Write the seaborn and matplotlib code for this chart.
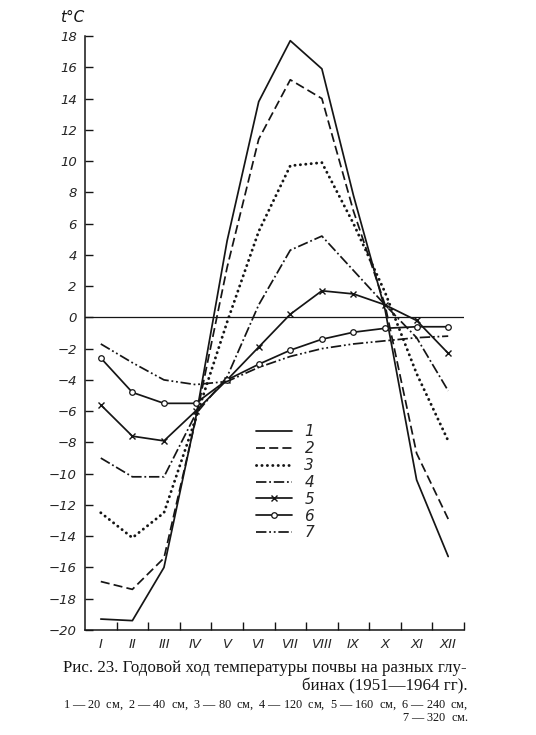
import matplotlib
matplotlib.use('Agg')
import matplotlib.pyplot as plt
import numpy as np
import pandas as pd
import seaborn as sns

months = ['I', 'II', 'III', 'IV', 'V', 'VI', 'VII', 'VIII', 'IX', 'X', 'XI', 'XII']
depth_labels = ['1', '2', '3', '4', '5', '6', '7']

# soil temperature
t_20 = [-19.3, -19.4, -16.0, -6.5, 4.9, 13.8, 17.7, 15.9, 7.8, 0.5, -10.4, -15.3]
t_40 = [-16.9, -17.4, -15.4, -6.6, 3.2, 11.4, 15.2, 14.0, 6.8, 0.8, -8.7, -12.9]
t_80 = [-12.5, -14.1, -12.5, -6.5, -0.3, 5.5, 9.7, 9.9, 6.0, 1.6, -3.6, -7.9]
t_120 = [-9.0, -10.2, -10.2, -6.2, -3.8, 0.8, 4.3, 5.2, 3.0, 0.8, -1.3, -4.7]
t_160 = [-5.6, -7.6, -7.9, -6.0, -4.0, -1.9, 0.2, 1.7, 1.5, 0.8, -0.2, -2.3]
t_240 = [-2.6, -4.8, -5.5, -5.5, -4.0, -3.0, -2.1, -1.4, -0.95, -0.7, -0.6, -0.6]
t_320 = [-1.7, -2.9, -4.0, -4.3, -4.1, -3.2, -2.5, -2.0, -1.7, -1.5, -1.3, -1.2]

series = [t_20, t_40, t_80, t_120, t_160, t_240, t_320]

rows = []
for lab, vals in zip(depth_labels, series):
    for i, v in enumerate(vals):
        rows.append({'depth': lab, 'month': i + 1, 't': v})
df = pd.DataFrame(rows)

sns.set_theme(style='ticks')
plt.rcParams['font.family'] = ['DejaVu Sans']
plt.rcParams['lines.scale_dashes'] = False
plt.rcParams['mathtext.fontset'] = 'custom'
plt.rcParams['mathtext.rm'] = 'Liberation Serif'
plt.rcParams['mathtext.it'] = 'Liberation Serif:italic'

ink = '#151515'
styles = {
    '1': dict(linestyle='-'),
    '2': dict(linestyle=(0, (6.5, 3))),
    '3': dict(linestyle=(0, (0.1, 3.8)), linewidth=2.1, dash_capstyle='round'),
    '4': dict(linestyle=(0, (7.5, 2, 1.3, 2))),
    '5': dict(linestyle='-', marker='x', markersize=5, markeredgewidth=1.0,
              markeredgecolor=ink),
    '6': dict(linestyle='-', marker='o', markersize=4, markeredgewidth=0.9,
              markeredgecolor=ink, markerfacecolor='white'),
    '7': dict(linestyle=(0, (7.5, 2, 1.3, 2, 1.3, 2))),
}

fig = plt.figure(figsize=(5.36, 7.35), dpi=100)
ax = fig.add_axes([85 / 536, 1 - 630 / 735, 379 / 536, 594 / 735])

for lab in depth_labels:
    kw = dict(linewidth=1.25, color=ink)
    kw.update(styles[lab])
    sns.lineplot(data=df[df.depth == lab], x='month', y='t', ax=ax,
                 label=lab, errorbar=None, **kw)

ax.axhline(0, color=ink, linewidth=0.9)

ax.set_xlim(0.5, 12.5)
ax.set_ylim(-20, 18)
ax.set_xticks(np.arange(1.5, 12.6, 1.0))
ax.set_xticklabels([])
ax.set_xticks(np.arange(1, 13), minor=True)
ax.set_xticklabels(months, minor=True, fontstyle='italic', fontsize=9.5)
ax.tick_params(axis='x', which='major', direction='in', length=5.5, width=1, color=ink)
ax.tick_params(axis='x', which='minor', length=0, pad=6)

yt = np.arange(-20, 19, 2)
ax.set_yticks(yt)
ax.set_yticklabels([('\u2212' + str(-v)) if v < 0 else str(v) for v in yt],
                   fontstyle='italic', fontsize=9.5)
ax.tick_params(axis='y', direction='in', length=6, width=1, color=ink, pad=6)

sns.despine(ax=ax)
for s in ['left', 'bottom']:
    ax.spines[s].set_color(ink)
    ax.spines[s].set_linewidth(1.1)
ax.set_xlabel('')
ax.set_ylabel('')
ax.grid(False)

ax.legend(loc='upper left', bbox_to_anchor=(0.45, 0.346), frameon=False,
          prop={'style': 'italic', 'size': 11}, handlelength=2.4,
          handletextpad=0.8, labelspacing=0.12, borderpad=0, borderaxespad=0,
          numpoints=1)

fig.text(72 / 536, 1 - 17 / 735, 't°C', fontstyle='italic', fontsize=11,
         ha='center', va='center', color=ink)

serif = 'Liberation Serif'
fig.text(63 / 536, 1 - 668 / 735,
         'Рис. 23. Годовой ход температуры почвы на разных глу-',
         family=serif, fontsize=12.2, ha='left', va='center', color=ink)
fig.text(468 / 536, 1 - 686 / 735, 'бинах (1951—1964 гг).',
         family=serif, fontsize=12.2, ha='right', va='center', color=ink)
fig.text(63 / 536, 1 - 705 / 735,
         r'$\mathit{1}$ — 20  см,  $\mathit{2}$ — 40  см,  $\mathit{3}$ — 80  см,  '
         r'$\mathit{4}$ — 120  см,  $\mathit{5}$ — 160  см,  $\mathit{6}$ — 240  см,',
         family=serif, fontsize=8.8, ha='left', va='center', color=ink)
fig.text(468 / 536, 1 - 718 / 735, r'$\mathit{7}$ — 320  см.',
         family=serif, fontsize=8.8, ha='right', va='center', color=ink)

fig.savefig('out.png', dpi=100, facecolor='white')
